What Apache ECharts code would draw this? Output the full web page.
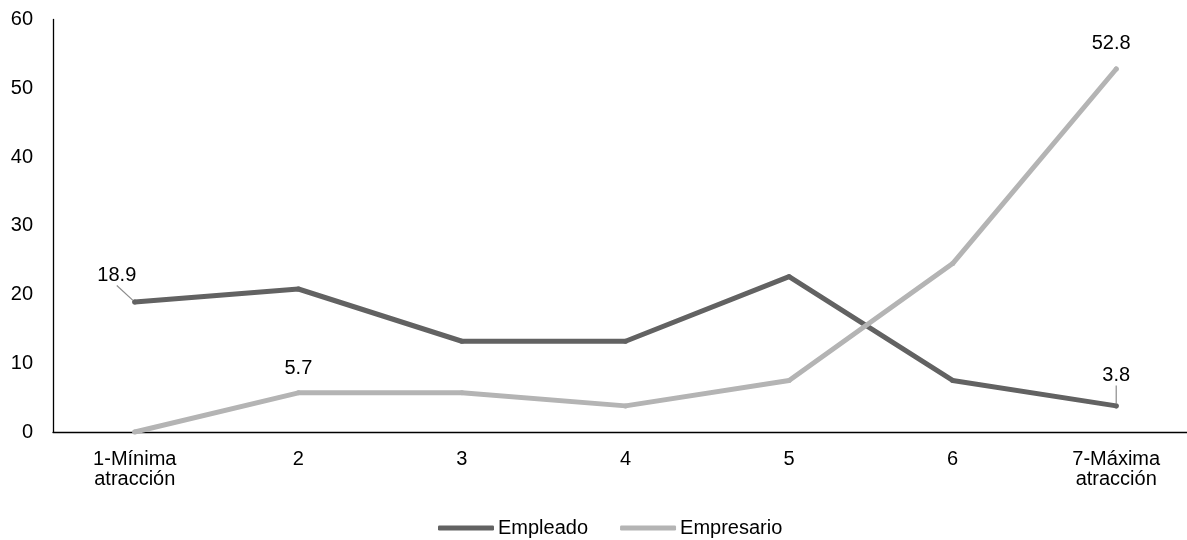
<!DOCTYPE html>
<html>
<head>
<meta charset="utf-8">
<script src="https://cdn.jsdelivr.net/npm/echarts@6/dist/echarts.min.js"></script>
<style>
  html, body { margin: 0; padding: 0; background: #fff; }
  #chart { width: 1187px; height: 540px; }
</style>
</head>
<body>
<div id="chart"></div>
<script>
// Nivel de atracción (1 a 7) y porcentaje de respuestas por perfil
const categories = ['1-Mínima\natracción', '2', '3', '4', '5', '6', '7-Máxima\natracción'];
const empleado = [18.9, 20.8, 13.2, 13.2, 22.6, 7.5, 3.8];
const empresario = [0, 5.7, 5.7, 3.8, 7.5, 24.5, 52.8];
const yTicks = { min: 0, max: 60, interval: 10 };

// Only these points carry a value label: index -> label shift [dx, dy]
const empleadoLabels = { 0: [-18, -9], 6: [0, -13] };
const empresarioLabels = { 1: [0, -7], 6: [-5, -8] };

const FONT = 'Liberation Sans, Arial, sans-serif';
const TEXT = '#000';

function buildData(values, labelled, guide) {
  return values.map((v, i) => {
    if (!(i in labelled)) return v;
    return {
      value: v,
      label: {
        show: true,
        position: 'top',
        distance: 5,
        color: TEXT,
        fontSize: 20,
        fontFamily: FONT
      },
      labelLine: guide
        ? { show: true, showAbove: true, lineStyle: { color: '#8c8c8c', width: 1.2 } }
        : { show: false }
    };
  });
}

// Moves each labelled point's text away from its marker; guide lines follow.
function shiftLabels(labelled) {
  return function (params) {
    const s = labelled[params.dataIndex];
    if (!s) return {};
    return { dx: s[0], dy: s[1] };
  };
}

const chart = echarts.init(document.getElementById('chart'), null, { renderer: 'canvas' });

chart.setOption({
  backgroundColor: '#fff',
  animation: false,
  textStyle: { fontFamily: FONT, color: TEXT },
  grid: { left: 53, top: 19.5, bottom: 108, width: 1145, outerBoundsMode: 'none' },
  legend: {
    left: 433,
    top: 513,
    itemWidth: 56,
    itemHeight: 5,
    itemGap: 32,
    icon: 'roundRect',
    textStyle: { fontSize: 20, color: TEXT, fontFamily: FONT, padding: [0, 0, 0, -1] },
    data: ['Empleado', 'Empresario']
  },
  xAxis: {
    type: 'category',
    data: categories,
    boundaryGap: true,
    axisLine: { show: true, lineStyle: { color: '#000', width: 1.3 } },
    axisTick: { show: false },
    splitLine: { show: false },
    axisLabel: { color: TEXT, fontSize: 20, fontFamily: FONT, lineHeight: 20, margin: 17, interval: 0 }
  },
  yAxis: {
    type: 'value',
    min: yTicks.min,
    max: yTicks.max,
    interval: yTicks.interval,
    axisLine: { show: true, lineStyle: { color: '#000', width: 1.3 } },
    axisTick: { show: false },
    splitLine: { show: false },
    axisLabel: { color: TEXT, fontSize: 20, fontFamily: FONT, margin: 20 }
  },
  series: [
    {
      name: 'Empleado',
      type: 'line',
      data: buildData(empleado, empleadoLabels, true),
      labelLayout: shiftLabels(empleadoLabels),
      symbol: 'circle',
      symbolSize: 5,
      showSymbol: true,
      itemStyle: { color: '#626262' },
      lineStyle: { color: '#626262', width: 5, cap: 'round', join: 'round' },
      emphasis: { disabled: true }
    },
    {
      name: 'Empresario',
      type: 'line',
      data: buildData(empresario, empresarioLabels, false),
      labelLayout: shiftLabels(empresarioLabels),
      symbol: 'circle',
      symbolSize: 5,
      showSymbol: true,
      itemStyle: { color: '#b4b4b4' },
      lineStyle: { color: '#b4b4b4', width: 5, cap: 'round', join: 'round' },
      emphasis: { disabled: true }
    }
  ]
});
</script>
</body>
</html>
